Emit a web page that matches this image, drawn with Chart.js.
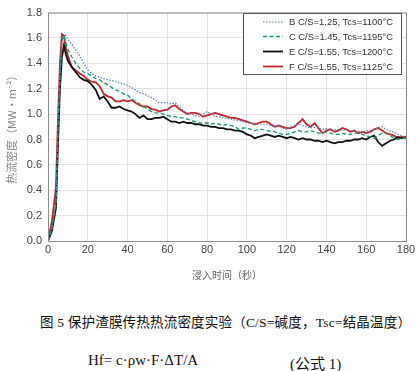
<!DOCTYPE html>
<html>
<head>
<meta charset="utf-8">
<script src="https://cdn.jsdelivr.net/npm/chart.js@4/dist/chart.umd.min.js"></script>
<style>
  body { margin: 0; background: #fff; }
  #wrap { position: relative; width: 420px; height: 371px; }
  #box { position: absolute; left: 0; top: 0; width: 420px; height: 290px; }
  .cap { position: absolute; left: 0; white-space: nowrap; color: #111; }
  #cap1 { top: 311px; left: 40px; font: 13.5px "Liberation Serif", "Noto Sans CJK SC", serif; letter-spacing: 0.2px; }
  #f1 { top: 352px; left: 88px; font: 15px "Liberation Serif", serif; }
  #f2 { top: 352px; left: 290px; font: 15px "Liberation Serif", "Noto Sans CJK SC", serif; }
</style>
</head>
<body>
<div id="wrap">
  <div id="box"><canvas id="myChart"></canvas></div>
  <div class="cap" id="cap1">图 5 保护渣膜传热热流密度实验（C/S=碱度，Tsc=结晶温度）</div>
  <div class="cap" id="f1">Hf= c·ρw·F·ΔT/A</div>
  <div class="cap" id="f2">(公式 1)</div>
</div>
<script>
// waktu (detik)
const waktu = [0, 2, 4, 5, 6, 7, 8, 9, 10,
  12, 14, 16, 18, 20, 22, 24, 26, 28, 30, 32, 34, 36, 38, 40, 42, 44, 46, 48, 50,
  52, 54, 56, 58, 60, 62, 64, 66, 68, 70, 72, 74, 76, 78, 80, 82, 84, 86, 88, 90,
  92, 94, 96, 98, 100, 102, 104, 106, 108, 110, 112, 114, 116, 118, 120, 122, 124, 126, 128, 130,
  132, 134, 136, 138, 140, 142, 144, 146, 148, 150, 152, 154, 156, 158, 160, 162, 164, 166, 168, 170,
  172, 174, 176, 178, 180];

const labelSeri = ['B C/S=1.25, Tcs=1100°C', 'C C/S=1.45, Tcs=1195°C', 'E C/S=1.55, Tcs=1200°C', 'F C/S=1.55, Tcs=1125°C'];

const seriB = [0, 0.10, 0.30, 0.85, 1.30, 1.56, 1.61, 1.62, 1.59,
  1.55, 1.50, 1.46, 1.40, 1.35, 1.32, 1.30, 1.29, 1.28, 1.27, 1.265, 1.255, 1.245, 1.24, 1.225, 1.21, 1.19, 1.17, 1.16, 1.145,
  1.13, 1.11, 1.09, 1.09, 1.09, 1.08, 1.09, 1.06, 1.03, 1.01, 1.00, 0.99, 0.98, 1.00, 1.02, 1.00, 0.98, 0.98, 0.97, 0.965,
  0.96, 0.955, 0.95, 0.94, 0.93, 0.93, 0.925, 0.92, 0.92, 0.92, 0.91, 0.90, 0.91, 0.89, 0.88, 0.90, 0.91, 0.92, 0.91, 0.90,
  0.89, 0.895, 0.89, 0.88, 0.885, 0.88, 0.875, 0.88, 0.87, 0.875, 0.87, 0.865, 0.865, 0.86, 0.865, 0.87, 0.88, 0.89, 0.90, 0.88,
  0.865, 0.86, 0.84, 0.83, 0.82];

const seriC = [0, 0.10, 0.30, 0.85, 1.30, 1.58, 1.62, 1.56, 1.51,
  1.45, 1.40, 1.36, 1.33, 1.32, 1.30, 1.28, 1.27, 1.25, 1.23, 1.21, 1.19, 1.18, 1.16, 1.15, 1.12, 1.10, 1.08, 1.06, 1.04,
  1.02, 1.01, 1.01, 1.00, 0.99, 0.98, 0.98, 0.97, 0.97, 0.96, 0.95, 0.94, 0.93, 0.93, 0.93, 0.92, 0.93, 0.92, 0.91, 0.92,
  0.91, 0.90, 0.88, 0.89, 0.89, 0.88, 0.87, 0.88, 0.88, 0.87, 0.865, 0.86, 0.85, 0.84, 0.84, 0.85, 0.86, 0.87, 0.86, 0.86,
  0.87, 0.86, 0.85, 0.85, 0.86, 0.85, 0.84, 0.84, 0.85, 0.84, 0.84, 0.85, 0.85, 0.84, 0.83, 0.82, 0.81, 0.83, 0.85, 0.85,
  0.83, 0.81, 0.80, 0.81, 0.81];

const seriE = [0, 0.08, 0.26, 0.75, 1.20, 1.45, 1.54, 1.47, 1.42,
  1.37, 1.33, 1.29, 1.27, 1.26, 1.23, 1.19, 1.12, 1.14, 1.10, 1.05, 1.05, 1.06, 1.04, 1.03, 1.02, 1.00, 0.97, 0.99, 0.96,
  0.96, 0.97, 0.97, 0.98, 0.96, 0.94, 0.94, 0.93, 0.94, 0.93, 0.93, 0.92, 0.92, 0.91, 0.91, 0.90, 0.90, 0.89, 0.89, 0.88,
  0.88, 0.87, 0.87, 0.86, 0.84, 0.83, 0.81, 0.82, 0.83, 0.84, 0.83, 0.82, 0.83, 0.82, 0.81, 0.82, 0.81, 0.80, 0.81, 0.80,
  0.80, 0.79, 0.79, 0.78, 0.79, 0.78, 0.77, 0.78, 0.78, 0.79, 0.79, 0.80, 0.80, 0.81, 0.80, 0.82, 0.83, 0.78, 0.75, 0.77,
  0.79, 0.80, 0.82, 0.81, 0.81];

const seriF = [0, 0.16, 0.42, 0.95, 1.40, 1.63, 1.62, 1.52, 1.46,
  1.37, 1.345, 1.32, 1.30, 1.27, 1.255, 1.25, 1.22, 1.16, 1.14, 1.13, 1.10, 1.10, 1.11, 1.10, 1.11, 1.09, 1.07, 1.06, 1.06,
  1.04, 1.035, 1.02, 1.03, 1.035, 1.06, 1.07, 1.04, 1.02, 1.00, 1.01, 1.01, 1.00, 0.98, 0.99, 1.00, 1.01, 1.00, 0.99, 0.98,
  0.97, 0.97, 0.96, 0.95, 0.94, 0.93, 0.92, 0.93, 0.94, 0.94, 0.92, 0.90, 0.91, 0.90, 0.89, 0.89, 0.90, 0.93, 0.96, 0.92,
  0.90, 0.93, 0.89, 0.85, 0.87, 0.88, 0.86, 0.87, 0.89, 0.88, 0.86, 0.87, 0.85, 0.86, 0.85, 0.86, 0.88, 0.89, 0.87, 0.85,
  0.84, 0.83, 0.81, 0.82, 0.82];

function titik(nilai) {
  return waktu.map((t, i) => ({ x: t, y: nilai[i] }));
}

// legenda kotak di dalam area grafik
const legendaKotak = {
  id: 'legendaKotak',
  afterDraw(chart) {
    const c = chart.ctx;
    const a = chart.chartArea;
    c.save();
    c.strokeStyle = '#8c8c8c';
    c.lineWidth = 1;
    c.strokeRect(a.left + 0.5, a.top + 0.5, a.right - a.left, a.bottom - a.top);
    c.fillStyle = '#fff';
    c.fillRect(243, 13, 159, 62);
    c.strokeStyle = '#555';
    c.strokeRect(243.5, 13.5, 158, 61);
    c.font = '9.5px "Liberation Sans", Arial, sans-serif';
    c.textBaseline = 'middle';
    const baris = [22, 36.5, 51.5, 66.5];
    chart.data.datasets.forEach((ds, i) => {
      c.strokeStyle = ds.borderColor;
      c.lineWidth = ds.borderWidth;
      c.setLineDash(ds.borderDash || []);
      c.beginPath();
      c.moveTo(263, baris[i]);
      c.lineTo(283, baris[i]);
      c.stroke();
      c.setLineDash([]);
      c.fillStyle = '#333';
      c.fillText(ds.label, 289, baris[i] + 0.5, 104);
    });
    c.restore();
  }
};

document.addEventListener("DOMContentLoaded", function () {
  const ctx = document.getElementById("myChart");
  new Chart(ctx, {
    type: 'line',
    data: {
      datasets: [{
        label: labelSeri[0],
        data: titik(seriB),
        borderColor: '#5a7fb8',
        borderWidth: 1.2,
        borderDash: [1.5, 1.5]
      }, {
        label: labelSeri[1],
        data: titik(seriC),
        borderColor: '#1f9b6c',
        borderWidth: 1.4,
        borderDash: [4, 2.5]
      }, {
        label: labelSeri[2],
        data: titik(seriE),
        borderColor: '#111111',
        borderWidth: 1.8
      }, {
        label: labelSeri[3],
        data: titik(seriF),
        borderColor: '#c2272d',
        borderWidth: 1.8
      }]
    },
    options: {
      responsive: true,
      maintainAspectRatio: false,
      animation: false,
      elements: { point: { radius: 0 }, line: { tension: 0 } },
      layout: { padding: { top: 10, right: 14, left: 0, bottom: 0 } },
      plugins: { legend: { display: false }, tooltip: { enabled: false } },
      scales: {
        x: {
          type: 'linear',
          min: 0,
          max: 180,
          afterFit(s) { s.height = 49; },
          border: { display: false },
          grid: { color: '#e3e3e3', drawTicks: false },
          ticks: { stepSize: 20, padding: 2, color: '#444', font: { family: '"Liberation Sans", Arial, sans-serif', size: 11 } },
          title: { display: true, text: '浸入时间（秒）', color: '#666', padding: { top: 0, bottom: 9 }, font: { family: '"Noto Sans CJK SC", sans-serif', size: 10 } }
        },
        y: {
          min: 0,
          max: 1.8,
          afterFit(s) { s.width = 48; },
          border: { display: false },
          grid: { color: '#e3e3e3', drawTicks: false },
          ticks: { stepSize: 0.2, padding: 6, color: '#444', font: { family: '"Liberation Sans", Arial, sans-serif', size: 11 }, callback: v => v.toFixed(1) },
          title: { display: true, text: '热流密度（MW·m⁻²）', color: '#888', padding: { top: 5, bottom: 0 }, font: { family: '"Noto Sans CJK SC", sans-serif', size: 11 } }
        }
      }
    },
    plugins: [legendaKotak]
  });
});
</script>
</body>
</html>
